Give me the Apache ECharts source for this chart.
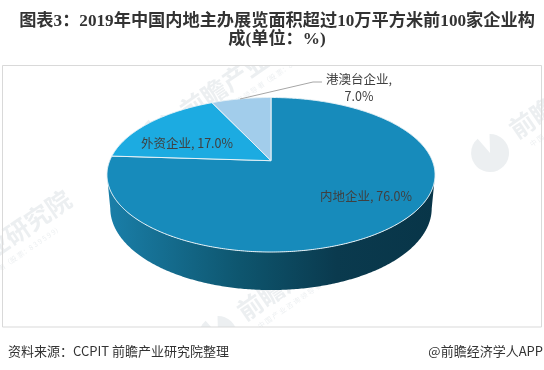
<!DOCTYPE html>
<html lang="zh">
<head>
    <meta charset="UTF-8">
    <title>图表3</title>
    <script src="https://cdn.jsdelivr.net/npm/echarts@6/dist/echarts.min.js"></script>
    <style>
        html, body, #chart {
            width: 544px;
            height: 370px;
            padding: 0;
            margin: 0;
            background: #fff;
        }
    </style>
</head>
<body>
<div id="chart"></div>
<script>
    var categories = ["内地企业", "外资企业", "港澳台企业"];
    var shares = [76.0, 17.0, 7.0];
    var titleLines = ["图表3：2019年中国内地主办展览面积超过10万平方米前100家企业构", "成(单位：%)"];
    var sourceText = "资料来源：CCPIT 前瞻产业研究院整理";
    var brandText = "@前瞻经济学人APP";
    var watermarkText = "前瞻产业研究院";
    var watermarkSub = "中 国 产 业 咨 询 领 导 者（股 票：8 3 9 5 9 9）";

    var myChart = echarts.init(document.getElementById("chart"));

    // the pie is an excel 3d pie, so it goes through a small perspective projection
    var cx = 271, cy = 160.7, radiusX = 161.3, radiusY = 74.7;
    var tilt = 0.182, depth = 33.7, depthW = 0.02;
    var sliceColors = ["#178bbb", "#1cabe1", "#a2cdeb"];
    var labelPlace = [[366, 196], [187, 143], [359, 87.5]];

    function project(angle, z) {
        var u = Math.sin(angle), v = Math.cos(angle);
        var w = 1 + tilt * v + depthW * z;
        return [cx + radiusX * u / w, cy + (-radiusY * v + depth * z) / w];
    }

    function arcPoints(from, to, z) {
        var steps = Math.max(2, Math.ceil(Math.abs(to - from) / 0.01));
        var pts = [];
        for (var i = 0; i <= steps; i++) {
            pts.push(project(from + (to - from) * i / steps, z));
        }
        return pts;
    }

    function renderSlice(params, api) {
        var idx = params.dataIndex;
        var total = shares.reduce(function (a, b) { return a + b; }, 0);
        var before = shares.slice(0, idx).reduce(function (a, b) { return a + b; }, 0);
        var start = before / total * Math.PI * 2;
        var end = start + api.value(0) / total * Math.PI * 2;
        var children = [];

        // side wall, only the part between the two silhouette points shows
        var edge = Math.acos(-tilt);
        var wallFrom = Math.max(start, edge), wallTo = Math.min(end, Math.PI * 2 - edge);
        if (wallTo > wallFrom) {
            children.push({
                type: "polygon",
                shape: {points: arcPoints(wallFrom, wallTo, 0).concat(arcPoints(wallTo, wallFrom, 1))},
                style: {
                    fill: {
                        type: "linear", x: 1, y: 0, x2: 0, y2: 0,
                        colorStops: [
                            {offset: 0, color: "#083548"},
                            {offset: 0.3, color: "#0a3a4e"},
                            {offset: 0.6, color: "#0e566f"},
                            {offset: 1, color: "#1a7fa9"}
                        ]
                    }
                }
            });
        }

        children.push({
            type: "polygon",
            shape: {points: [[cx, cy]].concat(arcPoints(start, end, 0))},
            style: {fill: sliceColors[idx], stroke: "#e6f1f6", lineWidth: 1}
        });
        return {type: "group", children: children};
    }

    function renderLabels(params, api) {
        var idx = params.dataIndex;
        var text = categories[idx] + ", " + api.value(0).toFixed(1) + "%";
        if (idx === 2) {
            text = categories[idx] + ",\n" + api.value(0).toFixed(1) + "%";
        }
        var children = [{
            type: "text",
            x: labelPlace[idx][0],
            y: labelPlace[idx][1],
            style: {
                text: text,
                fill: "#404040",
                font: "12.5px 'Noto Sans CJK SC'",
                lineHeight: 17,
                align: "center",
                verticalAlign: "middle"
            }
        }];
        if (idx === 2) {
            // leader line from the small slice to its label
            children.push({
                type: "polyline",
                shape: {points: [[240, 99], [313, 82], [322, 82]]},
                style: {stroke: "#a6a6a6", lineWidth: 1, fill: null}
            });
        }
        return {type: "group", children: children};
    }

    function watermark(x, y) {
        var ink = "rgba(170,180,190,0.22)";
        return {
            type: "group", x: x, y: y, rotation: 0.6, z: 5, silent: true,
            children: [{
                type: "sector",
                shape: {cx: -30, cy: 5, r: 19, r0: 0, startAngle: -1.0, endAngle: 4.6},
                style: {fill: ink}
            }, {
                type: "text",
                x: 0, y: 0,
                style: {
                    text: watermarkText,
                    fill: ink,
                    font: "bold 25px 'Noto Sans CJK SC'",
                    verticalAlign: "middle"
                }
            }, {
                type: "text",
                x: 8, y: 21,
                style: {
                    text: watermarkSub,
                    fill: ink,
                    font: "7px 'Noto Sans CJK SC'",
                    verticalAlign: "middle"
                }
            }]
        };
    }

    myChart.setOption({
        animation: false,
        title: {
            text: titleLines.join("\n"),
            left: 272,
            top: 8,
            textAlign: "center",
            z: 10,
            textStyle: {
                color: "#333",
                fontSize: 17.2,
                fontWeight: "bold",
                lineHeight: 18,
                fontFamily: "'Liberation Serif','Noto Sans CJK SC'"
            }
        },
        graphic: [
            watermark(183, 113),
            watermark(-76, 295),
            watermark(512, 132),
            watermark(240, 314),
            {type: "rect", z: 6, silent: true, shape: {x: 0, y: 0, width: 544, height: 66}, style: {fill: "#fff"}},
            {type: "rect", z: 6, silent: true, shape: {x: 0, y: 327, width: 544, height: 43}, style: {fill: "#fff"}},
            {type: "rect", z: 7, silent: true, shape: {x: 2.5, y: 65.5, width: 539, height: 261.5}, style: {fill: null, stroke: "#d9d9d9", lineWidth: 1}},
            {type: "text", z: 10, x: 8, y: 351, style: {text: sourceText, fill: "#333", font: "13px 'Noto Sans CJK SC'", verticalAlign: "middle"}},
            {type: "text", z: 10, x: 543, y: 351, style: {text: brandText, fill: "#333", font: "13px 'Noto Sans CJK SC'", align: "right", verticalAlign: "middle"}}
        ],
        series: [{
            type: "custom",
            coordinateSystem: "none",
            renderItem: renderSlice,
            data: shares,
            silent: true,
            z: 2
        }, {
            type: "custom",
            coordinateSystem: "none",
            renderItem: renderLabels,
            data: shares,
            silent: true,
            z: 3
        }]
    });
</script>
</body>
</html>
